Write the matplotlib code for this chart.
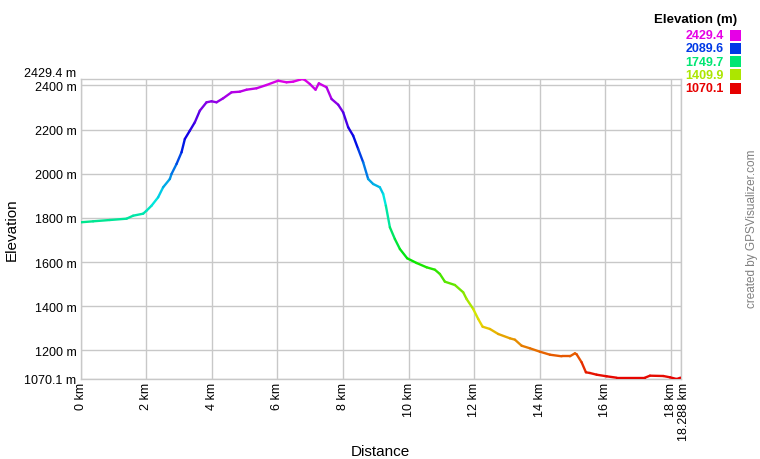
import matplotlib
matplotlib.use("Agg")
import matplotlib.pyplot as plt
from matplotlib.collections import LineCollection
from matplotlib.colors import hsv_to_rgb
from matplotlib.patches import Rectangle

plt.rcParams["font.family"] = ["Liberation Sans", "DejaVu Sans"]

# profile
distance_km = [0.0, 0.384, 0.893, 1.402, 1.604, 1.909, 2.012, 2.165, 2.366, 2.518,
               2.723, 2.774, 2.927, 3.079, 3.180, 3.332, 3.485, 3.637, 3.841, 3.994,
               4.146, 4.348, 4.604, 4.857, 5.061, 5.366, 5.671, 6.024, 6.280, 6.482,
               6.686, 6.760, 6.838, 6.991, 7.165, 7.265, 7.500, 7.652, 7.854, 8.006,
               8.159, 8.311, 8.463, 8.616, 8.768, 8.921, 9.125, 9.226, 9.308, 9.430,
               9.582, 9.735, 9.957, 10.244, 10.549, 10.802, 10.954, 11.107, 11.412, 11.665,
               11.768, 11.970, 12.122, 12.256, 12.479, 12.732, 13.088, 13.241, 13.445, 13.698,
               14.003, 14.308, 14.665, 14.918, 15.070, 15.122, 15.274, 15.405, 15.527, 15.732,
               16.037, 16.341, 17.204, 17.357, 17.762, 17.966, 18.171, 18.288]
elevation_m = [1780.1, 1784.6, 1790.5, 1796.4, 1810.0, 1819.1, 1832.7, 1855.3, 1893.4, 1938.7,
               1976.3, 1999.0, 2044.3, 2097.3, 2157.5, 2195.2, 2233.2, 2285.8, 2323.8, 2328.4,
               2323.8, 2341.9, 2369.1, 2371.9, 2380.9, 2387.3, 2402.2, 2421.7, 2414.4, 2417.2,
               2426.2, 2429.4, 2424.9, 2406.7, 2380.9, 2409.9, 2391.8, 2338.8, 2313.0, 2278.5,
               2210.6, 2172.5, 2112.2, 2052.0, 1976.3, 1953.6, 1938.7, 1908.3, 1855.3, 1757.5,
               1704.4, 1659.1, 1617.0, 1595.7, 1576.2, 1565.3, 1545.9, 1511.0, 1496.0, 1462.9,
               1432.6, 1387.3, 1342.0, 1307.1, 1296.7, 1274.0, 1254.5, 1248.2, 1221.0, 1209.2,
               1193.8, 1180.2, 1173.0, 1173.0, 1186.5, 1182.0, 1145.8, 1100.5, 1097.3, 1089.6,
               1082.3, 1076.0, 1076.0, 1085.1, 1083.7, 1077.8, 1070.1, 1076.0]

ELEV_MIN = 1070.1
ELEV_MAX = 2429.4
TOTAL_KM = 18.288
x_ticks = [0, 2, 4, 6, 8, 10, 12, 14, 16, 18]
y_ticks = [1200, 1400, 1600, 1800, 2000, 2200, 2400]
legend_values = [2429.4, 2089.6, 1749.7, 1409.9, 1070.1]

GRID = "#c8c8c8"
W, H = 760, 460


def elev_color(e):
    f = (e - ELEV_MIN) / (ELEV_MAX - ELEV_MIN)
    return hsv_to_rgb((f * 300 / 360, 1.0, 0.9))


def fx(x):
    return x / W


def fy(y):
    return 1 - y / H


fig = plt.figure(figsize=(W / 100, H / 100), dpi=100, facecolor="white")
ax = fig.add_axes([fx(80.5), fy(380), 600 / W, 300 / H])

segs = []
cols = []
for i in range(len(distance_km) - 1):
    segs.append([(distance_km[i], elevation_m[i]), (distance_km[i + 1], elevation_m[i + 1])])
    cols.append(elev_color((elevation_m[i] + elevation_m[i + 1]) / 2))
ax.add_collection(LineCollection(segs, colors=cols, linewidths=1.7,
                                 capstyle="round", joinstyle="round", zorder=3))

ax.set_xlim(0, TOTAL_KM)
ax.set_ylim(ELEV_MIN, ELEV_MAX)

ax.set_xticks(x_ticks + [TOTAL_KM])
ax.set_xticklabels([f"{t} km" for t in x_ticks] + [""], rotation=90)
# end-of-track label, nudged right so it sits beside "18 km"
ax.annotate(f"{TOTAL_KM:g} km", xy=(TOTAL_KM, 0), xycoords=("data", "axes fraction"),
            xytext=(2.2, -2.2), textcoords="offset points", ha="center", va="top",
            rotation=90, fontsize=9)
ax.set_yticks([ELEV_MIN] + y_ticks)
ax.set_yticklabels([f"{ELEV_MIN} m"] + [f"{t} m" for t in y_ticks])
ax.annotate(f"{ELEV_MAX} m", xy=(0, ELEV_MAX), xycoords=("axes fraction", "data"),
            xytext=(-3, 4.5), textcoords="offset points", ha="right", va="center",
            fontsize=9)

ax.tick_params(length=0, labelsize=9, pad=3, colors="black")
ax.tick_params(axis="x", pad=2.2)
ax.grid(True, color=GRID, linewidth=1.0)
ax.set_axisbelow(True)
for sp in ax.spines.values():
    sp.set_color(GRID)
    sp.set_linewidth(1.0)

fig.text(fx(12), fy(230), "Elevation", rotation=90, ha="center", va="center", fontsize=11)
fig.text(fx(380), fy(452), "Distance", ha="center", va="center", fontsize=11)

# colour legend
fig.text(fx(737), fy(20), "Elevation (m)", ha="right", va="center",
         fontsize=9.5, fontweight="bold")
for i, v in enumerate(legend_values):
    yc = 36 + 13.3 * i
    c = elev_color(v)
    fig.text(fx(724), fy(yc), f"{v}", ha="right", va="center", fontsize=9,
             fontweight="bold", color=c)
    fig.patches.append(Rectangle((fx(730), fy(yc + 5.5)), 11 / W, 11 / H,
                                 transform=fig.transFigure, facecolor=c,
                                 edgecolor="none"))

fig.text(fx(752), fy(229), "created by GPSVisualizer.com", rotation=90,
         ha="center", va="center", fontsize=8.5, color="#808080")

fig.savefig("out.png", dpi=100, facecolor="white")
